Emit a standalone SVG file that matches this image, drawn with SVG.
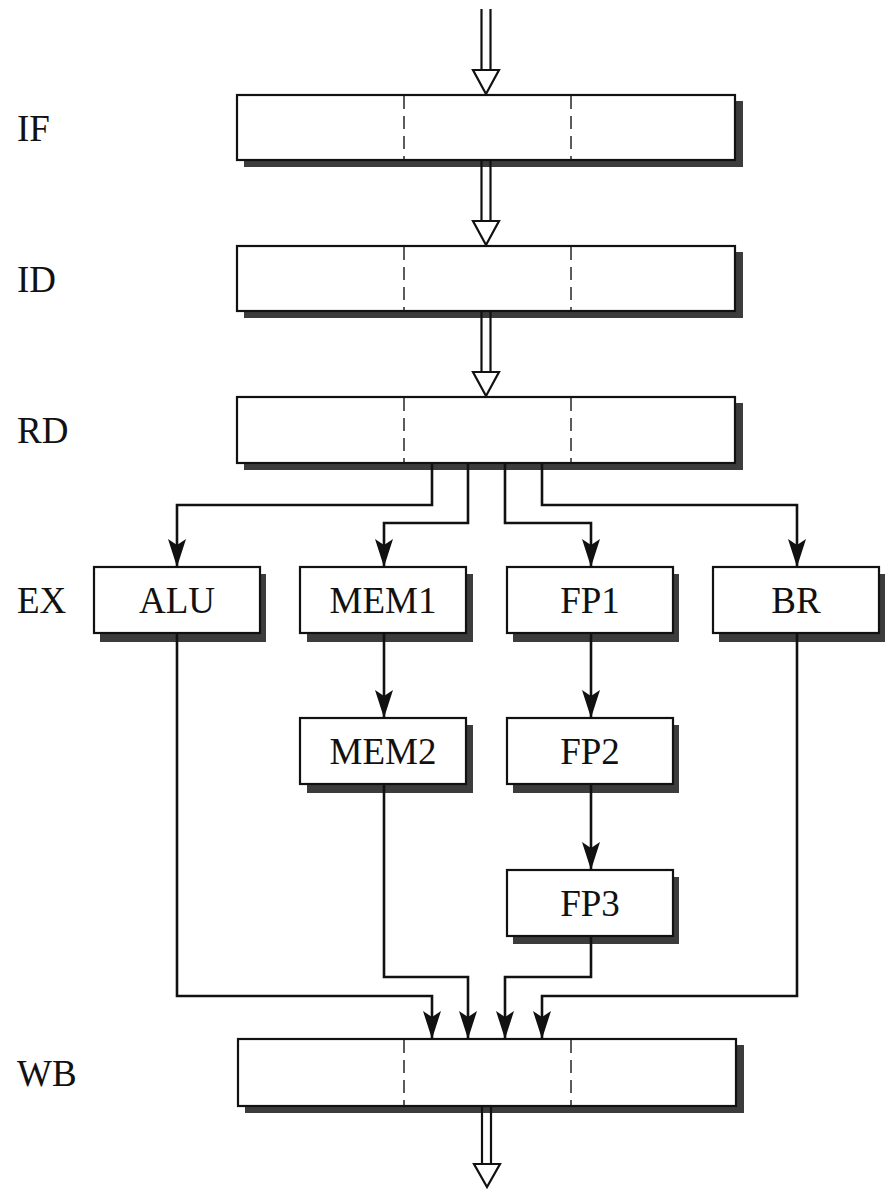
<svg xmlns="http://www.w3.org/2000/svg" width="891" height="1189" viewBox="0 0 891 1189">
<style>
.shadow{fill:#3c3c3c;stroke:none}
.box{fill:#fff;stroke:#111;stroke-width:2.2}
.div{stroke:#333;stroke-width:1.6;stroke-dasharray:13 7;fill:none}
.t{font-family:"Liberation Serif","Times New Roman",serif;font-size:37px;fill:#111}
.c{text-anchor:middle}
.wire{fill:none;stroke:#111;stroke-width:2.6;stroke-linejoin:miter}
.shaft{stroke:#111;stroke-width:2.2;fill:none}
.head{fill:#fff;stroke:#111;stroke-width:2.2;stroke-linejoin:miter}
</style>
<defs>
<marker id="ad" markerUnits="userSpaceOnUse" markerWidth="20" markerHeight="30" viewBox="-10 -29 20 30" refX="0" refY="0" orient="0">
<path d="M0,0 L-9,-28 L0,-22 L9,-28 Z" fill="#111"/>
</marker>
</defs>
<rect width="891" height="1189" fill="#fff"/>

<g id="labels">
<text class="t" x="17" y="141">IF</text>
<text class="t" x="17" y="292">ID</text>
<text class="t" x="17" y="443">RD</text>
<text class="t" x="17" y="613">EX</text>
<text class="t" x="17" y="1086">WB</text>
</g>

<g id="IF">
<rect class="shadow" x="244" y="101" width="499" height="66"/>
<rect class="box" x="237" y="95" width="498" height="65"/>
<line class="div" x1="404" y1="96" x2="404" y2="159"/>
<line class="div" x1="571" y1="96" x2="571" y2="159"/>
</g>
<g id="ID">
<rect class="shadow" x="244" y="252" width="499" height="66"/>
<rect class="box" x="237" y="246" width="498" height="65"/>
<line class="div" x1="404" y1="247" x2="404" y2="310"/>
<line class="div" x1="571" y1="247" x2="571" y2="310"/>
</g>
<g id="RD">
<rect class="shadow" x="244" y="403" width="499" height="67"/>
<rect class="box" x="237" y="397" width="498" height="66"/>
<line class="div" x1="404" y1="398" x2="404" y2="462"/>
<line class="div" x1="571" y1="398" x2="571" y2="462"/>
</g>
<g id="WB">
<rect class="shadow" x="245" y="1045" width="499" height="68"/>
<rect class="box" x="238" y="1039" width="498" height="67"/>
<line class="div" x1="404" y1="1040" x2="404" y2="1105"/>
<line class="div" x1="571" y1="1040" x2="571" y2="1105"/>
</g>

<g id="ALU">
<rect class="shadow" x="100" y="574" width="166" height="68"/>
<rect class="box" x="94" y="567" width="166" height="66"/>
<text class="t c" x="177" y="613">ALU</text>
</g>
<g id="MEM1">
<rect class="shadow" x="307" y="574" width="166" height="68"/>
<rect class="box" x="300" y="567" width="166" height="66"/>
<text class="t c" x="383" y="613">MEM1</text>
</g>
<g id="FP1">
<rect class="shadow" x="513" y="574" width="166" height="68"/>
<rect class="box" x="507" y="567" width="166" height="66"/>
<text class="t c" x="590" y="613">FP1</text>
</g>
<g id="BR">
<rect class="shadow" x="719" y="574" width="166" height="68"/>
<rect class="box" x="713" y="567" width="166" height="66"/>
<text class="t c" x="796" y="613">BR</text>
</g>
<g id="MEM2">
<rect class="shadow" x="307" y="725" width="166" height="68"/>
<rect class="box" x="300" y="718" width="166" height="66"/>
<text class="t c" x="383" y="764">MEM2</text>
</g>
<g id="FP2">
<rect class="shadow" x="513" y="725" width="166" height="68"/>
<rect class="box" x="507" y="718" width="166" height="66"/>
<text class="t c" x="590" y="764">FP2</text>
</g>
<g id="FP3">
<rect class="shadow" x="513" y="877" width="166" height="67"/>
<rect class="box" x="507" y="870" width="166" height="66"/>
<text class="t c" x="590" y="916">FP3</text>
</g>

<g id="connectors">
<g id="hollow">
<line class="shaft" x1="481.5" y1="9" x2="481.5" y2="71"/>
<line class="shaft" x1="490.5" y1="9" x2="490.5" y2="71"/>
<path class="head" d="M473,70 L499,70 L486,94 Z"/>
<line class="shaft" x1="481.5" y1="160" x2="481.5" y2="222"/>
<line class="shaft" x1="490.5" y1="160" x2="490.5" y2="222"/>
<path class="head" d="M473,221 L499,221 L486,245 Z"/>
<line class="shaft" x1="481.5" y1="311" x2="481.5" y2="373"/>
<line class="shaft" x1="490.5" y1="311" x2="490.5" y2="373"/>
<path class="head" d="M473,372 L499,372 L486,396 Z"/>
<line class="shaft" x1="482" y1="1106" x2="482" y2="1165"/>
<line class="shaft" x1="491" y1="1106" x2="491" y2="1165"/>
<path class="head" d="M474,1164 L500,1164 L487,1187 Z"/>
</g>
<path class="wire" d="M432,463 V505 H177 V567" marker-end="url(#ad)"/>
<path class="wire" d="M468,463 V523 H384 V567" marker-end="url(#ad)"/>
<path class="wire" d="M505,463 V523 H591 V567" marker-end="url(#ad)"/>
<path class="wire" d="M542,463 V505 H797 V567" marker-end="url(#ad)"/>
<path class="wire" d="M384,633 V718" marker-end="url(#ad)"/>
<path class="wire" d="M591,633 V718" marker-end="url(#ad)"/>
<path class="wire" d="M591,784 V870" marker-end="url(#ad)"/>
<path class="wire" d="M177,633 V996 H432 V1039" marker-end="url(#ad)"/>
<path class="wire" d="M384,784 V977 H468 V1039" marker-end="url(#ad)"/>
<path class="wire" d="M591,936 V977 H505 V1039" marker-end="url(#ad)"/>
<path class="wire" d="M797,633 V996 H542 V1039" marker-end="url(#ad)"/>
</g>
</svg>
